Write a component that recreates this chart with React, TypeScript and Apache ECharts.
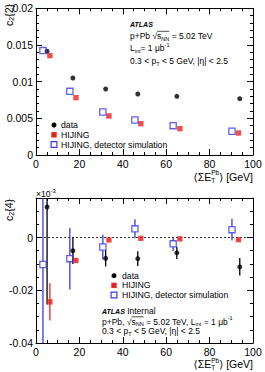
import React, { useEffect, useRef } from 'react';
import * as echarts from 'echarts';

// ---- data -------------------------------------------------------------
const xTicks = [0, 20, 40, 60, 80, 100];
const c22Ticks = [0, 0.005, 0.01, 0.015, 0.02];
const c24Ticks = [-0.04, -0.02, 0];

// c2{2} versus <ΣE_T^Pb> : [x, value]
const c22Data = [[5.1, 0.01414], [17.0, 0.0105], [32.1, 0.009], [46.9, 0.00832], [64.9, 0.008], [93.9, 0.00768]];
const c22Hijing = [[6.4, 0.01355], [18.4, 0.00782], [33.6, 0.00532], [48.3, 0.00427], [66.3, 0.00359], [93.3, 0.003]];
const c22Sim = [[3.2, 0.01423], [15.6, 0.00868], [30.8, 0.00586], [45.6, 0.00477], [63.2, 0.004], [90.3, 0.00323]];

// c2{4} versus <ΣE_T^Pb> : [x, value, uncertainty]
const c24Data = [[5.1, 0.0116, 0.037], [17.0, -0.005, 0.005], [32.1, -0.0079, 0.0031], [46.9, -0.008, 0.0028], [64.9, -0.0058, 0.0023], [93.9, -0.0111, 0.0033]];
const c24Hijing = [[6.4, -0.0244, 0.0071], [18.4, -0.0087, 0.0008], [33.6, -0.0009, 0.0005], [48.3, -0.0003, 0.0004], [66.3, -0.0005, 0.0004], [93.3, -0.0008, 0.0004]];
const c24Sim = [[3.2, -0.0102, 0.045], [15.6, -0.008, 0.0117], [30.8, -0.0036, 0.0047], [45.6, 0.0033, 0.0036], [63.2, -0.0024, 0.0027], [90.3, 0.003, 0.0041]];

const NAMES = ['data', 'HIJING', 'HIJING, detector simulation'];

// ---- style ------------------------------------------------------------
const FONT = '"Liberation Sans", Arial, Helvetica, "DejaVu Sans", sans-serif';
const BLACK = '#000000';
const RED = '#e8231f';
const BLUE = '#3a3ae6';

// ---- text runs with sub/superscripts ----------------------------------
type Piece = { t: string; s?: number; dy?: number; bold?: boolean; italic?: boolean; over?: boolean; top?: string; topDy?: number; topS?: number };

let measureCtx: CanvasRenderingContext2D | null = null;
function fontStr(size: number, bold?: boolean, italic?: boolean) {
  return `${italic ? 'italic ' : ''}${bold ? 'bold ' : ''}${size}px ${FONT}`;
}
function measure(t: string, size: number, bold?: boolean, italic?: boolean) {
  if (!measureCtx) measureCtx = document.createElement('canvas').getContext('2d');
  if (!measureCtx) return t.length * size * 0.55;
  measureCtx.font = fontStr(size, bold, italic);
  return measureCtx.measureText(t).width;
}

function textEl(t: string, x: number, y: number, size: number, bold?: boolean, italic?: boolean) {
  return {
    type: 'text',
    x,
    y,
    style: {
      text: t,
      fontSize: size,
      fontFamily: FONT,
      fontWeight: bold ? 'bold' : 'normal',
      fontStyle: italic ? 'italic' : 'normal',
      fill: BLACK,
      verticalAlign: 'middle',
      align: 'left',
    },
  };
}

function textRun(x: number, y: number, base: number, pieces: Piece[], align: 'left' | 'right' = 'left', rotation = 0) {
  const children: any[] = [];
  let cx = 0;
  for (const p of pieces) {
    const size = p.s ?? base;
    const w = measure(p.t, size, p.bold, p.italic);
    children.push(textEl(p.t, cx, p.dy ?? 0, size, p.bold, p.italic));
    let adv = w;
    if (p.top) {
      const ts = p.topS ?? size;
      const wt = measure(p.top, ts, p.bold, p.italic);
      children.push(textEl(p.top, cx, p.topDy ?? -4, ts, p.bold, p.italic));
      adv = Math.max(w, wt);
    }
    if (p.over) {
      const oy = -base * 0.55;
      children.push({ type: 'line', shape: { x1: cx, y1: oy, x2: cx + w, y2: oy }, style: { stroke: BLACK, lineWidth: 0.7 } });
    }
    cx += adv;
  }
  if (align === 'right') {
    for (const c of children) {
      if (c.type === 'line') { c.shape.x1 -= cx; c.shape.x2 -= cx; } else c.x -= cx;
    }
  }
  return { type: 'group', x, y, rotation, children };
}

// ---- legend block (marker + label per row) ------------------------------
function legendBlock(iconX: number, textX: number, rows: number[]) {
  const children: any[] = [];
  rows.forEach((y, i) => {
    if (i === 0) {
      children.push({ type: 'circle', shape: { cx: iconX, cy: y, r: 2.5 }, style: { fill: BLACK } });
    } else if (i === 1) {
      children.push({ type: 'rect', shape: { x: iconX - 2.7, y: y - 2.7, width: 5.4, height: 5.4 }, style: { fill: RED } });
    } else {
      children.push({ type: 'rect', shape: { x: iconX - 2.9, y: y - 2.9, width: 5.8, height: 5.8 }, style: { fill: 'none', stroke: BLUE, lineWidth: 1.2 } });
    }
    children.push(textEl(NAMES[i], textX, y, 8.7));
  });
  return { type: 'group', children };
}

// ---- axes --------------------------------------------------------------
const tickLine = { color: BLACK, width: 1 };
function xAxes(grid: number) {
  const base: any = {
    type: 'value', gridIndex: grid, min: 0, max: 100, interval: 20,
    splitLine: { show: false },
    axisLine: { show: true, onZero: false, lineStyle: tickLine },
    axisTick: { show: true, inside: true, length: 6, lineStyle: tickLine },
    minorTick: { show: true, splitNumber: 4, length: 3, lineStyle: tickLine },
  };
  return [
    {
      ...base, position: 'bottom',
      axisLabel: {
        show: true, fontSize: 10.5, fontFamily: FONT, color: BLACK, margin: 3,
        formatter: (v: number) => (xTicks.some((t) => Math.abs(t - v) < 1e-9) ? String(v) : ''),
      },
    },
    { ...base, position: 'top', axisLabel: { show: false } },
  ];
}

function labelFrom(ticks: number[]) {
  return (v: number) => {
    const t = ticks.find((k) => Math.abs(k - v) < 1e-9);
    return t === undefined ? '' : String(t);
  };
}

function yAxis(grid: number, position: string, min: number, max: number, interval: number, opts: any) {
  return {
    type: 'value', gridIndex: grid, position, min, max, interval,
    splitLine: { show: false },
    axisLine: { show: opts.line !== false, onZero: false, lineStyle: tickLine },
    axisTick: { show: true, inside: true, length: opts.tick ?? 6, lineStyle: tickLine },
    minorTick: { show: !!opts.minor, splitNumber: opts.minor || 5, length: 3, lineStyle: tickLine },
    axisLabel: opts.labels
      ? { show: true, fontSize: 10.5, fontFamily: FONT, color: BLACK, margin: 3, formatter: labelFrom(opts.labels), showMaxLabel: true }
      : { show: false },
  };
}

// ---- vertical uncertainty bars ------------------------------------------
function errorSeries(pts: number[][], xAxisIndex: number, yAxisIndex: number, color: string, gap: number) {
  return {
    type: 'custom',
    xAxisIndex, yAxisIndex,
    silent: true,
    z: 1,
    data: pts,
    renderItem: (params: any, api: any) => {
      const x = api.value(0), y = api.value(1), e = api.value(2);
      const cs = params.coordSys;
      const top = api.coord([x, y + e]);
      const bot = api.coord([x, y - e]);
      const mid = api.coord([x, y]);
      const clamp = (v: number) => Math.max(cs.y, Math.min(cs.y + cs.height, v));
      const px = mid[0];
      const y1 = clamp(top[1]);
      const y2 = clamp(bot[1]);
      const style = { stroke: color, lineWidth: 1.3 };
      const children: any[] = [];
      const a = clamp(mid[1] - gap), b = clamp(mid[1] + gap);
      if (a > y1) children.push({ type: 'line', shape: { x1: px, y1, x2: px, y2: a }, style });
      if (y2 > b) children.push({ type: 'line', shape: { x1: px, y1: b, x2: px, y2 }, style });
      return { type: 'group', children };
    },
  };
}

function markerSeries(name: string, pts: number[][], xAxisIndex: number, yAxisIndex: number) {
  const style: any =
    name === NAMES[0]
      ? { symbol: 'circle', symbolSize: 5, itemStyle: { color: BLACK } }
      : name === NAMES[1]
      ? { symbol: 'rect', symbolSize: 5.4, itemStyle: { color: RED } }
      : { symbol: 'rect', symbolSize: 6.2, itemStyle: { color: 'rgba(255,255,255,0)', borderColor: BLUE, borderWidth: 1.3 } };
  return {
    type: 'scatter', name, xAxisIndex, yAxisIndex, z: 3,
    data: pts.map((p) => [p[0], p[1]]),
    ...style,
  };
}

function buildOption() {
  const sqrtS = (): Piece[] => [
    { t: '√' },
    { t: 's', over: true },
    { t: 'NN', s: 5.5, dy: 2.5, over: true },
  ];
  const xTitle = (y: number) =>
    textRun(253, y, 10.5, [
      { t: '⟨ΣE' },
      { t: 'T', s: 6.5, dy: 3.8, top: 'Pb', topS: 6.5, topDy: -3.6 },
      { t: '⟩ [GeV]' },
    ], 'right');

  const graphic = [
    // c2{2} panel annotations
    textRun(130, 24, 7, [{ t: 'ATLAS', bold: true, italic: true }]),
    textRun(130, 36, 8.5, [{ t: 'p+Pb ' }, ...sqrtS(), { t: ' = 5.02 TeV' }]),
    textRun(130, 48, 8.5, [{ t: 'L' }, { t: 'int', s: 5.5, dy: 2.5 }, { t: '= 1 μb' }, { t: '-1', s: 5.5, dy: -3.5 }]),
    textRun(130, 61, 8.5, [{ t: '0.3 < p' }, { t: 'T', s: 5.5, dy: 2.5 }, { t: ' < 5 GeV, |η| < 2.5' }]),
    legendBlock(54, 61, [125, 134.8, 144.5]),
    xTitle(176.5),
    textRun(8.5, 4, 10.5, [{ t: 'c' }, { t: '2', s: 7, dy: 3 }, { t: '{2}' }], 'right', Math.PI / 2),

    // c2{4} panel annotations
    textRun(36, 194, 8.5, [{ t: '×10' }, { t: '-3', s: 6, dy: -3.5 }]),
    legendBlock(114, 122, [275.7, 285.4, 295]),
    textRun(102, 311, 8.5, [{ t: 'ATLAS', s: 7, bold: true, italic: true }, { t: ' Internal' }]),
    textRun(102, 321.5, 8.5, [
      { t: 'p+Pb, ' }, ...sqrtS(), { t: ' = 5.02 TeV, L' },
      { t: 'int', s: 5.5, dy: 2.5 }, { t: ' = 1 μb' }, { t: '-1', s: 5.5, dy: -3.5 },
    ]),
    textRun(102, 331, 8.5, [{ t: '0.3 < p' }, { t: 'T', s: 5.5, dy: 2.5 }, { t: ' < 5 GeV, |η| < 2.5' }]),
    xTitle(364),
    textRun(8.5, 199, 10.5, [{ t: 'c' }, { t: '2', s: 7, dy: 3 }, { t: '{4}' }], 'right', Math.PI / 2),
  ];

  return {
    animation: false,
    backgroundColor: '#ffffff',
    grid: [
      { left: 36, top: 8.3, width: 217, height: 146.7 },
      { left: 36, top: 198, width: 217, height: 145 },
    ],
    xAxis: [...xAxes(0), ...xAxes(1)],
    yAxis: [
      yAxis(0, 'left', 0, 0.02, 0.005, { labels: c22Ticks, minor: 5 }),
      yAxis(0, 'right', 0, 0.02, 0.005, { minor: 5 }),
      yAxis(1, 'left', -0.04, 0.015, 0.02, { labels: c24Ticks }),
      yAxis(1, 'left', -0.04, 0.015, 0.005, { tick: 3, line: false }),
      yAxis(1, 'right', -0.04, 0.015, 0.02, {}),
      yAxis(1, 'right', -0.04, 0.015, 0.005, { tick: 3, line: false }),
    ],
    graphic,
    series: [
      markerSeries(NAMES[0], c22Data, 0, 0),
      markerSeries(NAMES[1], c22Hijing, 0, 0),
      markerSeries(NAMES[2], c22Sim, 0, 0),

      errorSeries(c24Data, 2, 2, BLACK, 0),
      errorSeries(c24Hijing, 2, 2, RED, 0),
      errorSeries(c24Sim, 2, 2, BLUE, 3.1),
      {
        ...markerSeries(NAMES[0], c24Data, 2, 2),
        markLine: {
          silent: true, symbol: 'none', label: { show: false }, z: 0,
          lineStyle: { color: BLACK, type: [2, 2], width: 0.8 },
          data: [{ yAxis: 0 }],
        },
      },
      markerSeries(NAMES[1], c24Hijing, 2, 2),
      markerSeries(NAMES[2], c24Sim, 2, 2),
    ],
  };
}

export default function App() {
  const ref = useRef<HTMLDivElement>(null);
  useEffect(() => {
    if (!ref.current) return;
    const chart = echarts.init(ref.current, undefined, { renderer: 'svg' });
    chart.setOption(buildOption() as any);
    return () => chart.dispose();
  }, []);
  return <div ref={ref} style={{ position: 'absolute', left: 0, top: 0, width: 265, height: 372, background: '#fff' }} />;
}
